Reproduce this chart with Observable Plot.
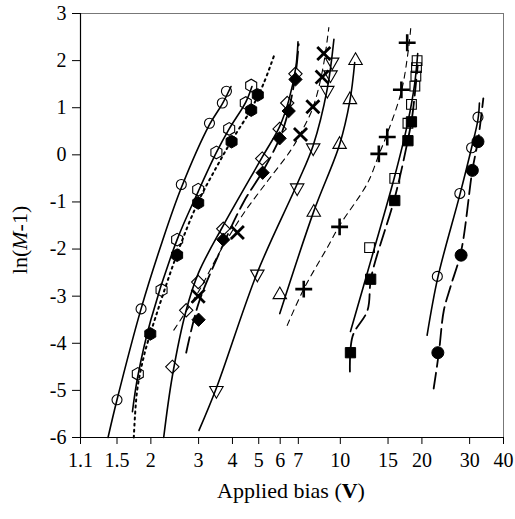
<!DOCTYPE html>
<html>
<head>
<meta charset="utf-8">
<script src="https://cdn.jsdelivr.net/npm/d3@7"></script>
<script src="https://cdn.jsdelivr.net/npm/@observablehq/plot@0.6"></script>
<style>
  body { margin: 0; background: #fff; }
  #chart svg { font-family: "Liberation Serif", "Times New Roman", serif; }
</style>
</head>
<body>
<div id="chart"></div>
<script>
// Tick values
const xTicks = [1.1, 1.5, 2, 3, 4, 5, 6, 7, 10, 15, 20, 30, 40];
const yTicks = [-6, -5, -4, -3, -2, -1, 0, 1, 2, 3];

// Measured points [bias (V), ln(M-1)] and fitted curves for each device
const openCircleA = [[1.5,-5.2],[1.84,-3.27],[2.59,-0.63],[3.29,0.67],[3.67,1.1],[3.8,1.35]];
const openCircleAFit = [[1.39,-6],[1.5,-5.2],[1.84,-3.27],[2.2,-1.85],[2.59,-0.7],[3.29,0.64],[3.67,1.08],[3.95,1.45]];

const openHex = [[1.79,-4.65],[2.19,-2.87],[2.5,-1.8],[2.99,-0.74],[3.49,0.05],[3.89,0.55],[4.48,1.1],[4.69,1.47]];
const openHexFit = [[1.71,-5.45],[1.79,-4.7],[2.0,-3.5],[2.5,-1.8],[2.99,-0.78],[3.49,0.05],[3.89,0.55],[4.48,1.12],[4.72,1.45]];

const filledHex = [[1.99,-3.8],[2.5,-2.13],[2.99,-1.02],[3.97,0.28],[4.69,0.95],[4.96,1.27]];
const filledHexFit = [[1.73,-6],[1.78,-5.0],[1.88,-4.3],[1.99,-3.8],[2.5,-2.1],[2.99,-1.0],[3.5,-0.25],[3.97,0.3],[4.69,0.97],[5.2,1.5],[5.69,2.1]];

const openDiamond = [[2.4,-4.5],[2.7,-3.3],[2.99,-2.7],[3.7,-1.57],[5.15,-0.08],[5.97,0.55],[6.37,1.1],[6.83,1.72]];
const openDiamondFit = [[2.23,-6],[2.4,-4.7],[2.7,-3.3],[3.0,-2.5],[3.7,-1.5],[5.15,-0.05],[5.97,0.6],[6.45,1.15],[6.85,1.85],[6.98,2.4]];

const filledDiamond = [[3.0,-3.5],[3.7,-1.8],[5.17,-0.38],[5.97,0.35],[6.45,0.93],[6.83,1.6]];
const filledDiamondFit = [[2.7,-4.2],[3.0,-3.15],[3.7,-1.9],[4.4,-1.0],[5.17,-0.35],[5.97,0.35],[6.45,0.95],[6.85,1.75],[7.02,2.35]];

const crossX = [[2.99,-3.0],[4.17,-1.65],[7.13,0.43],[7.92,1.02],[8.57,1.65],[8.69,2.15]];
const crossXFit = [[2.43,-3.72],[3.0,-2.9],[3.6,-2.05],[4.39,-1.25],[5.4,-0.55],[6.55,0.09],[7.13,0.45],[7.92,1.0],[8.6,1.8],[9.07,2.7]];

const downTri = [[3.49,-5.0],[4.94,-2.53],[6.93,-0.7],[7.94,0.15],[8.95,1.37],[9.2,1.7],[9.33,1.97]];
const downTriFit = [[3.01,-5.85],[3.49,-4.95],[4.94,-2.5],[6.93,-0.62],[7.94,0.2],[8.95,1.4],[9.47,2.45]];

const upTri = [[5.98,-2.97],[7.98,-1.22],[9.94,0.22],[10.85,1.17],[11.38,2.0]];
const upTriFit = [[5.98,-3.37],[7.98,-1.2],[9.94,0.22],[10.85,1.15],[11.3,1.96]];

const plusMark = [[7.33,-2.85],[9.94,-1.53],[13.87,0.02],[14.9,0.38],[16.8,1.38],[17.65,2.38]];
const plusMarkFit = [[6.37,-3.62],[7.33,-2.85],[8.97,-1.96],[9.94,-1.5],[12.6,-0.6],[13.87,0.0],[14.9,0.45],[16.8,1.35],[17.8,2.2],[18.2,2.7]];

const openSquare = [[12.82,-1.97],[15.88,-0.5],[17.76,0.67],[18.3,1.07],[18.84,1.46],[19.0,1.67],[19.1,1.85],[19.2,2.0]];
const openSquareFit = [[10.9,-3.75],[13.1,-2.15],[15.88,-0.45],[17.76,0.7],[18.8,1.5],[19.3,2.15]];

const filledSquare = [[10.9,-4.2],[12.94,-2.64],[15.88,-0.97],[17.76,0.3],[18.3,0.7]];
const filledSquareFit = [[10.85,-4.6],[11.1,-3.85],[12.6,-3.3],[13.0,-2.6],[15.9,-0.9],[17.8,0.35],[18.4,0.8],[19.3,1.9]];

const openCircleB = [[22.8,-2.58],[27.6,-0.82],[30.5,0.15],[32.2,0.8]];
const openCircleBFit = [[20.9,-3.83],[22.9,-2.6],[27.6,-0.85],[30.5,0.15],[32.2,0.75],[32.6,1.1]];

const filledCircle = [[22.9,-4.2],[27.9,-2.13],[30.7,-0.33],[32.2,0.28]];
const filledCircleFit = [[22.1,-4.96],[23.1,-4.2],[24.1,-3.3],[25.5,-2.8],[27.9,-2.05],[30.7,-0.33],[32.2,0.3],[33.7,1.2]];

// Line styles
const solid = {strokeWidth: 1.6};
const dotted = {strokeWidth: 2, strokeDasharray: "2,4"};
const longDash = {strokeWidth: 1.8, strokeDasharray: "16,6"};
const thinDash = {strokeWidth: 1.1, strokeDasharray: "6,5"};

const fits = [
  [openCircleAFit, solid], [openHexFit, solid], [filledHexFit, dotted],
  [openDiamondFit, solid], [filledDiamondFit, longDash], [crossXFit, thinDash],
  [downTriFit, solid], [upTriFit, solid], [plusMarkFit, thinDash],
  [openSquareFit, solid], [filledSquareFit, longDash],
  [openCircleBFit, solid], [filledCircleFit, longDash]
];

const open = {fill: "none", stroke: "black", strokeWidth: 1.1};
const filled = {fill: "black", stroke: "black", strokeWidth: 1};
const markers = [
  [openCircleA, {symbol: "circle", r: 5, ...open}],
  [openHex, {symbol: "hexagon", r: 5.5, ...open}],
  [filledHex, {symbol: "hexagon", r: 5.5, ...filled}],
  [openDiamond, {symbol: "diamond2", r: 6, ...open}],
  [filledDiamond, {symbol: "diamond2", r: 6, ...filled}],
  [crossX, {symbol: "times", r: 6, stroke: "black", strokeWidth: 2.8}],
  [downTri, {symbol: "triangle", rotate: 180, r: 5, ...open}],
  [upTri, {symbol: "triangle", r: 5, ...open}],
  [plusMark, {symbol: "plus", r: 5.5, stroke: "black", strokeWidth: 2.6}],
  [openSquare, {symbol: "square", r: 5.5, ...open}],
  [filledSquare, {symbol: "square", r: 5.8, ...filled}],
  [openCircleB, {symbol: "circle", r: 5, ...open}],
  [filledCircle, {symbol: "circle", r: 6, ...filled}]
];

const chart = Plot.plot({
  width: 515,
  height: 519,
  marginLeft: 80,
  marginRight: 12,
  marginTop: 13,
  marginBottom: 82,
  style: {fontSize: "20px", fontFamily: "'Liberation Serif', 'Times New Roman', serif", background: "white", color: "black"},
  x: {type: "log", domain: [1.1, 40]},
  y: {domain: [-6, 3]},
  marks: [
    Plot.frame({stroke: "#777", strokeWidth: 1}),
    Plot.ruleX([1.1], {stroke: "black", strokeWidth: 1.2}),
    Plot.ruleY([-6], {stroke: "black", strokeWidth: 1.2}),
    ...fits.map(([data, style]) =>
      Plot.line(data, {x: d => d[0], y: d => d[1], curve: "catmull-rom", stroke: "black", ...style})),
    ...markers.map(([data, style]) =>
      Plot.dot(data, {x: d => d[0], y: d => d[1], ...style})),
    Plot.axisX({ticks: xTicks, tickFormat: d => String(d), tickSize: 7, tickPadding: 8, label: null, fontSize: 20}),
    Plot.axisY({ticks: yTicks, tickFormat: d => String(d), tickSize: 8, tickPadding: 6, label: null, fontSize: 20})
  ]
});

document.getElementById("chart").appendChild(chart);

// Axis titles with an italic M and a bold V
const svg = d3.select(chart);
const xTitle = svg.append("text")
  .attr("x", 291).attr("y", 498)
  .attr("text-anchor", "middle")
  .attr("font-size", 22)
  .attr("fill", "black");
xTitle.append("tspan").text("Applied bias (");
xTitle.append("tspan").attr("font-weight", "bold").text("V");
xTitle.append("tspan").text(")");

const yTitle = svg.append("text")
  .attr("transform", "translate(27,240) rotate(-90)")
  .attr("text-anchor", "middle")
  .attr("font-size", 22)
  .attr("fill", "black");
yTitle.append("tspan").text("ln(");
yTitle.append("tspan").attr("font-style", "italic").text("M");
yTitle.append("tspan").text("-1)");
</script>
</body>
</html>
